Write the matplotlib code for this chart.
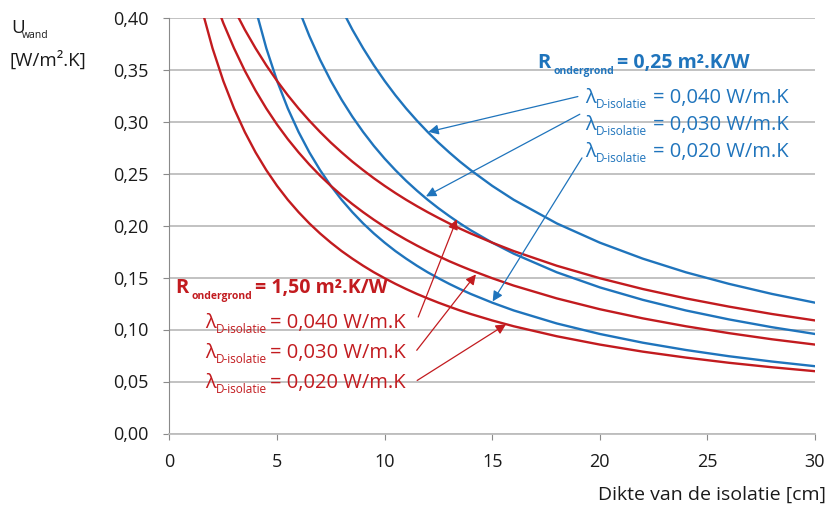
import matplotlib
matplotlib.use('Agg')
import matplotlib.pyplot as plt
import numpy as np

plt.rcParams['font.family'] = ['Open Sans', 'DejaVu Sans']

# dikte isolatie [cm]
dikte = [1, 1.5, 2, 2.5, 3, 3.5, 4, 4.5, 5, 5.5, 6, 6.5, 7, 7.5, 8,
         8.5, 9, 9.5, 10, 10.5, 11, 11.5, 12, 12.5, 13, 13.5, 14,
         15, 16, 18, 20, 22, 24, 26, 28, 30]

# R ondergrond = 0,25 m2.K/W
blauw_040 = [1.4286, 1.2121, 1.0526, 0.9302, 0.8333, 0.7547, 0.6897, 0.6349, 0.5882, 0.5479, 0.5128, 0.4819, 0.4545, 0.4301, 0.4082,
             0.3883, 0.3704, 0.3540, 0.3390, 0.3252, 0.3125, 0.3008, 0.2899, 0.2797, 0.2703, 0.2614, 0.2532,
             0.2381, 0.2247, 0.2020, 0.1835, 0.1681, 0.1550, 0.1439, 0.1342, 0.1258]
blauw_030 = [1.2766, 1.0526, 0.8955, 0.7792, 0.6897, 0.6186, 0.5607, 0.5128, 0.4724, 0.4380, 0.4082, 0.3822, 0.3593, 0.3390, 0.3209,
             0.3046, 0.2899, 0.2765, 0.2643, 0.2532, 0.2429, 0.2335, 0.2247, 0.2166, 0.2091, 0.2020, 0.1954,
             0.1835, 0.1729, 0.1550, 0.1405, 0.1285, 0.1183, 0.1097, 0.1022, 0.0957]
blauw_020 = [1.0526, 0.8333, 0.6897, 0.5882, 0.5128, 0.4545, 0.4082, 0.3704, 0.3390, 0.3125, 0.2899, 0.2703, 0.2532, 0.2381, 0.2247,
             0.2128, 0.2020, 0.1923, 0.1835, 0.1754, 0.1681, 0.1613, 0.1550, 0.1493, 0.1439, 0.1389, 0.1342,
             0.1258, 0.1183, 0.1058, 0.0957, 0.0873, 0.0803, 0.0743, 0.0692, 0.0647]

# R ondergrond = 1,50 m2.K/W
rood_040 = [0.5128, 0.4819, 0.4545, 0.4301, 0.4082, 0.3883, 0.3704, 0.3540, 0.3390, 0.3252, 0.3125, 0.3008, 0.2899, 0.2797, 0.2703,
            0.2614, 0.2532, 0.2454, 0.2381, 0.2312, 0.2247, 0.2186, 0.2128, 0.2073, 0.2020, 0.1970, 0.1923,
            0.1835, 0.1754, 0.1613, 0.1493, 0.1389, 0.1299, 0.1220, 0.1149, 0.1087]
rood_030 = [0.4918, 0.4545, 0.4225, 0.3947, 0.3704, 0.3488, 0.3297, 0.3125, 0.2970, 0.2830, 0.2703, 0.2586, 0.2479, 0.2381, 0.2290,
            0.2206, 0.2128, 0.2055, 0.1987, 0.1923, 0.1863, 0.1807, 0.1754, 0.1705, 0.1657, 0.1613, 0.1571,
            0.1493, 0.1422, 0.1299, 0.1195, 0.1107, 0.1031, 0.0965, 0.0906, 0.0855]
rood_020 = [0.4545, 0.4082, 0.3704, 0.3390, 0.3125, 0.2899, 0.2703, 0.2532, 0.2381, 0.2247, 0.2128, 0.2020, 0.1923, 0.1835, 0.1754,
            0.1681, 0.1613, 0.1550, 0.1493, 0.1439, 0.1389, 0.1342, 0.1299, 0.1258, 0.1220, 0.1183, 0.1149,
            0.1087, 0.1031, 0.0935, 0.0855, 0.0787, 0.0730, 0.0680, 0.0637, 0.0599]

x_ticks = [0, 5, 10, 15, 20, 25, 30]
y_ticks = [0.00, 0.05, 0.10, 0.15, 0.20, 0.25, 0.30, 0.35, 0.40]
y_labels = ['0,00', '0,05', '0,10', '0,15', '0,20', '0,25', '0,30', '0,35', '0,40']

lambdas = ['0,040', '0,030', '0,020']
# pijlen: (punt op curve, begin bij tekst)
pijl_blauw = [((12.03, 0.290), (18.98, 0.324)),
              ((11.92, 0.228), (19.07, 0.307)),
              ((15.02, 0.127), (19.17, 0.265))]
pijl_rood = [((13.35, 0.206), (11.56, 0.112)),
             ((14.24, 0.153), (11.49, 0.080)),
             ((15.64, 0.105), (11.51, 0.051))]

blauw = '#1f74bc'
rood = '#c21b1f'
grijs = '#bdbdbd'

W, H = 828, 507
fig = plt.figure(figsize=(W/100, H/100), dpi=100)
ax = fig.add_axes([169.5/W, 1-433.5/H, (815-169.5)/W, (433.5-17.5)/H])

ax.plot(dikte, blauw_040, color=blauw, lw=1.7)
ax.plot(dikte, blauw_030, color=blauw, lw=1.7)
ax.plot(dikte, blauw_020, color=blauw, lw=1.7)
ax.plot(dikte, rood_040, color=rood, lw=1.7)
ax.plot(dikte, rood_030, color=rood, lw=1.7)
ax.plot(dikte, rood_020, color=rood, lw=1.7)

for tip, start in pijl_blauw:
    ax.annotate('', xy=tip, xytext=start, annotation_clip=False,
                arrowprops=dict(arrowstyle='-|>', color=blauw, lw=0.9, mutation_scale=15, shrinkA=0, shrinkB=0))
for tip, start in pijl_rood:
    ax.annotate('', xy=tip, xytext=start, annotation_clip=False,
                arrowprops=dict(arrowstyle='-|>', color=rood, lw=0.9, mutation_scale=15, shrinkA=0, shrinkB=0))

ax.set_xlim(0, 30)
ax.set_ylim(0, 0.40)
ax.set_xticks(x_ticks)
ax.set_yticks(y_ticks)
ax.set_yticklabels(y_labels)
ax.grid(axis='y', color=grijs, lw=1.3)
ax.grid(axis='x', visible=False)
ax.set_axisbelow(True)
for s in ['top', 'right']:
    ax.spines[s].set_visible(False)
ax.spines['left'].set_color('#8a8a8a')
ax.spines['bottom'].set_color(grijs)
ax.spines['bottom'].set_linewidth(1.3)
ax.tick_params(axis='both', direction='out', length=4, color='#8a8a8a', labelsize=13, labelcolor='#1a1a1a')
ax.tick_params(axis='y', pad=11)
ax.tick_params(axis='x', pad=10)


def tekst(x, y, s, size, color, weight='normal', ha='left'):
    # x, y in pixels van links-boven, y = basislijn
    fig.text(x/W, 1-y/H, s, fontsize=size, color=color, fontweight=weight, ha=ha, va='baseline')


# as titels
tekst(11, 33, 'U', 13.5, '#1a1a1a')
tekst(22, 38, 'wand', 7.5, '#1a1a1a')
tekst(10, 66, '[W/m\u00b2.K]', 13.5, '#1a1a1a')
tekst(826, 500, 'Dikte van de isolatie [cm]', 14, '#1a1a1a', ha='right')

# legenda blauw
tekst(537, 68, 'R', 14.5, blauw, 'bold')
tekst(554, 74, 'ondergrond', 7.5, blauw, 'bold')
tekst(617, 68, '= 0,25 m\u00b2.K/W', 14, blauw, 'bold')
for i, lam in enumerate(lambdas):
    yb = 103.3 + i*26.7
    tekst(585, yb, '\u03bb', 14.5, blauw)
    tekst(596, yb + 5, 'D-isolatie', 8.5, blauw)
    tekst(653, yb, '= ' + lam + ' W/m.K', 14.5, blauw)

# legenda rood
tekst(175, 293, 'R', 14.5, rood, 'bold')
tekst(192, 299, 'ondergrond', 7.5, rood, 'bold')
tekst(255, 293, '= 1,50 m\u00b2.K/W', 14, rood, 'bold')
for i, lam in enumerate(lambdas):
    yb = 328.3 + i*29.7
    tekst(205, yb, '\u03bb', 14.5, rood)
    tekst(216, yb + 5, 'D-isolatie', 8.5, rood)
    tekst(270, yb, '= ' + lam + ' W/m.K', 14.5, rood)

fig.savefig('out.png', dpi=100)
